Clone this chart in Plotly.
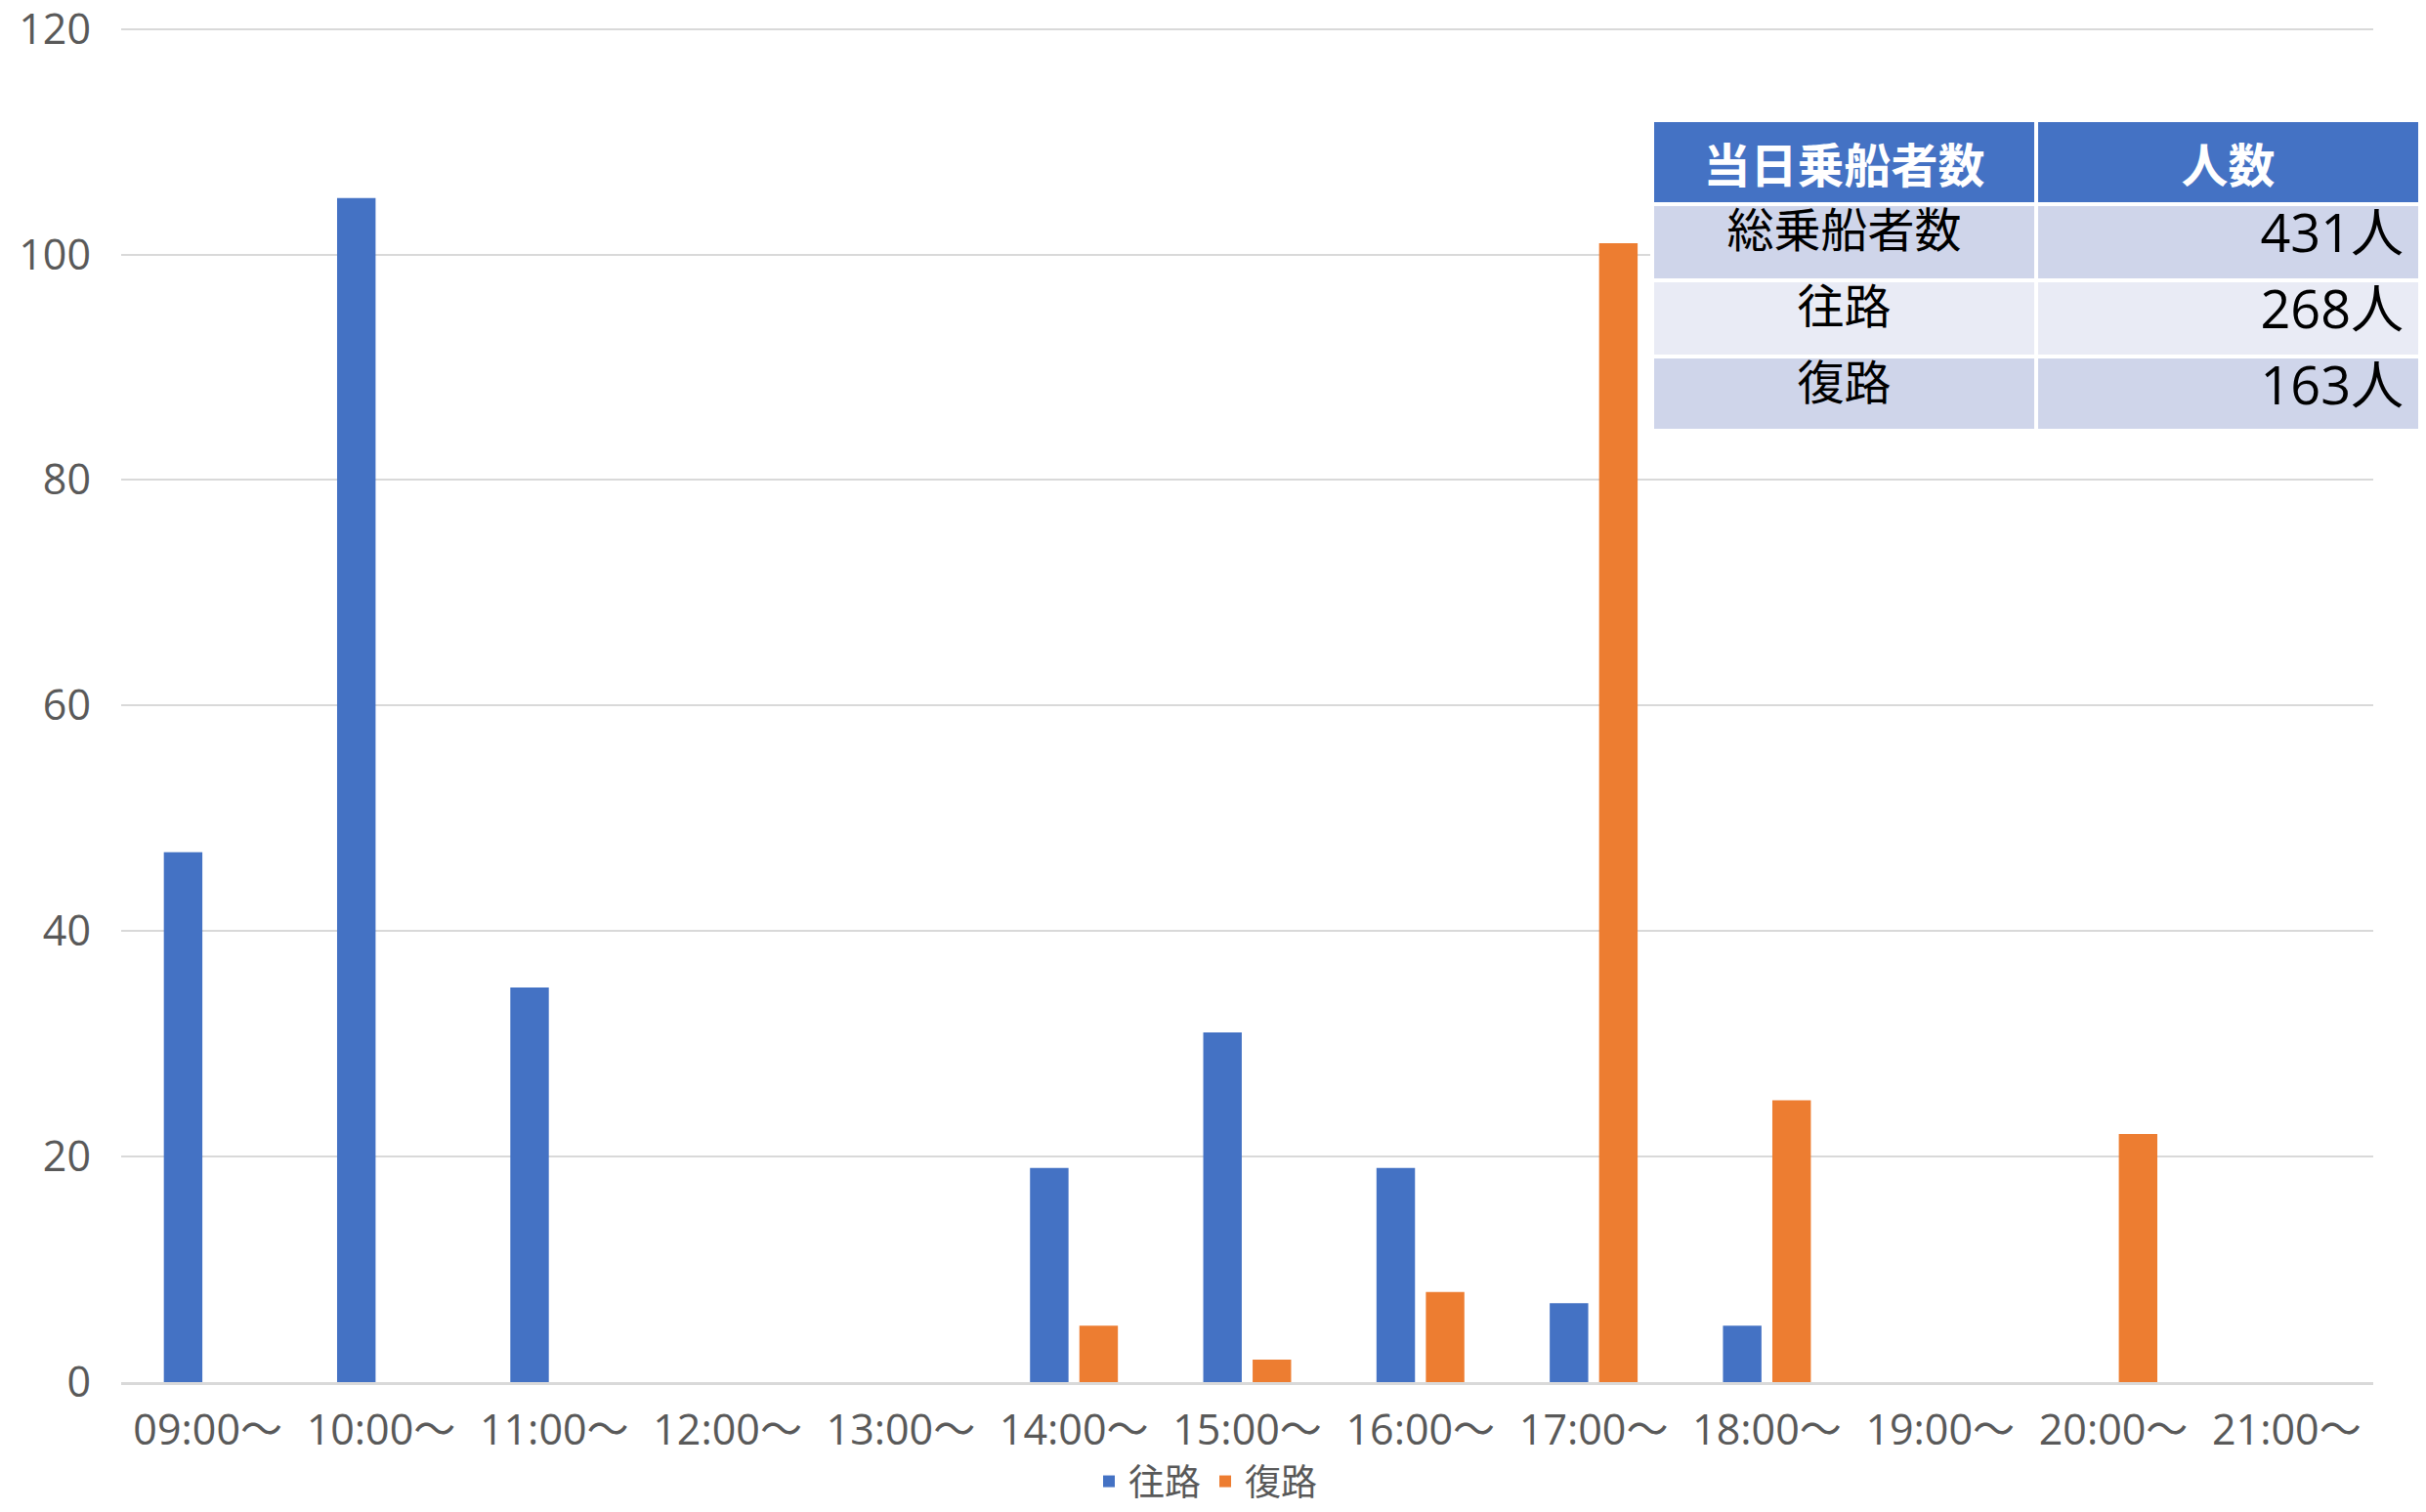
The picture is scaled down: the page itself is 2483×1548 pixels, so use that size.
import plotly.graph_objects as go

categories = ["09:00～", "10:00～", "11:00～", "12:00～", "13:00～", "14:00～", "15:00～",
              "16:00～", "17:00～", "18:00～", "19:00～", "20:00～", "21:00～"]
outbound = [47, 105, 35, 0, 0, 19, 31, 19, 7, 5, 0, 0, 0]
inbound = [0, 0, 0, 0, 0, 5, 2, 8, 101, 25, 0, 22, 0]
series_names = ["往路", "復路"]
y_ticks = [0, 20, 40, 60, 80, 100, 120]

table_header = ["当日乗船者数", "人数"]
table_labels = ["総乗船者数", "往路", "復路"]
table_counts = [431, 268, 163]
table_unit = "人"

BLUE = "#4472C4"
ORANGE = "#ED7D31"
CJK = "Noto Sans CJK JP"
LATIN = "Open Sans, Noto Sans CJK JP"
W, H = 2483, 1548
ML, MR, MT, MB = 124, 5, 25, 133
PW = W - ML - MR
PH = H - MT - MB

fig = go.Figure()
fig.add_trace(go.Bar(x=categories, y=outbound, name=series_names[0],
                     marker=dict(color=BLUE, line=dict(width=0))))
fig.add_trace(go.Bar(x=categories, y=inbound, name=series_names[1],
                     marker=dict(color=ORANGE, line=dict(width=0))))

row_fill = ["#CFD5EA", "#E9EBF5", "#CFD5EA"]
count_text = [f"{c}{table_unit}\u2009" for c in table_counts]
fig.add_trace(go.Table(
    domain=dict(x=[(1691 - ML) / PW, 1.0], y=[1 - (440 - MT) / PH, 1 - (123 - MT) / PH]),
    columnwidth=[1, 1],
    header=dict(values=[f"<b>{h}</b>" for h in table_header],
                fill_color=BLUE, align="center", height=73,
                line=dict(color="white", width=4),
                font=dict(family=CJK, size=48, color="white")),
    cells=dict(values=[table_labels, count_text],
               fill_color=[row_fill, row_fill],
               align=["center", "right"], height=78,
               line=dict(color="white", width=4),
               font=dict(family=[CJK, LATIN], size=[48, 54], color="black")),
))

fig.update_layout(
    width=W, height=H,
    margin=dict(l=ML, r=MR, t=MT, b=MB, autoexpand=False),
    paper_bgcolor="white", plot_bgcolor="white",
    barmode="group", bargap=0.43, bargroupgap=0.22,
    font=dict(family=CJK, color="#595959"),
    showlegend=True,
    legend=dict(orientation="h", x=(1234 - ML) / PW, xanchor="center",
                yref="container", y=0, yanchor="bottom",
                font=dict(size=37, color="#595959", family=CJK),
                itemwidth=30, tracegroupgap=0, borderwidth=0),
    xaxis=dict(domain=[0, (2429 - ML) / PW], showgrid=False, showline=True,
               linecolor="#D9D9D9", linewidth=3, ticks="", automargin=False,
               tickfont=dict(size=43, color="#595959", family=LATIN),
               ticklabelstandoff=9, ticklabeloverflow="allow"),
    yaxis=dict(range=[0, 120.4], tickvals=y_ticks, showgrid=True,
               gridcolor="#D9D9D9", gridwidth=2, zeroline=False,
               showline=False, ticks="", automargin=False,
               tickfont=dict(size=43, color="#595959", family=LATIN),
               ticklabelstandoff=30, ticklabeloverflow="allow"),
)

fig.write_html("out.html", config={"displayModeBar": False},
               post_script="document.body.style.margin='0';")
